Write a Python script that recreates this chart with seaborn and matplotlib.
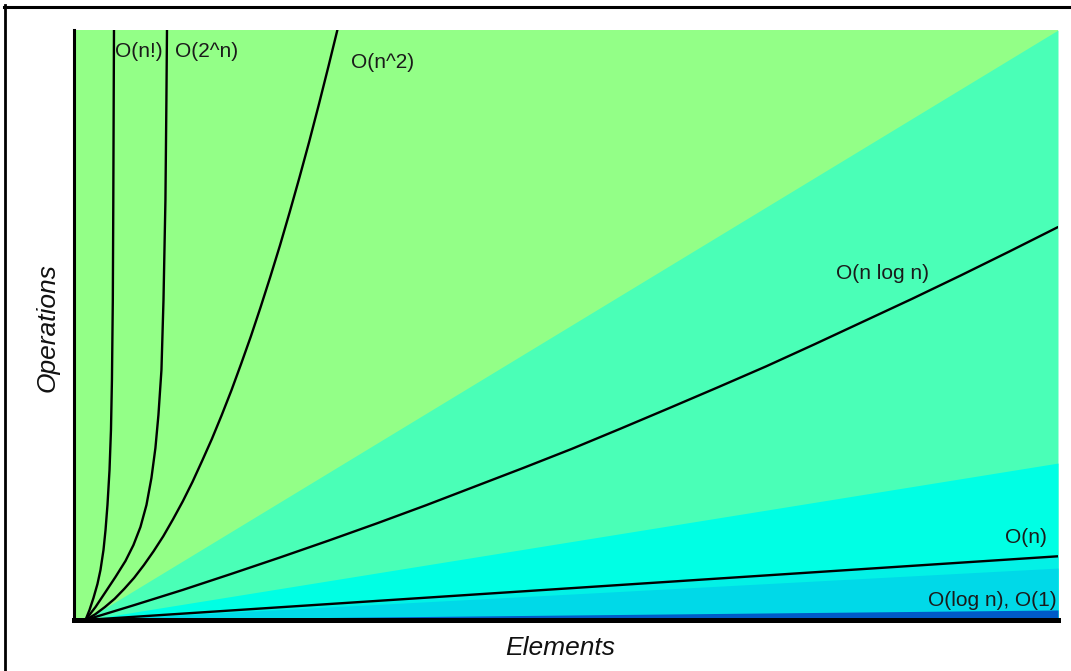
import matplotlib
matplotlib.use("Agg")
import matplotlib.pyplot as plt
from matplotlib.lines import Line2D
import seaborn as sns
import pandas as pd

# ---- data (x: Elements 0..100, y: Operations 0..100) ----
region_names = ["Fair", "Good", "Better", "Great", "Excellent"]
region_end_y = [100.0, 26.6, 10.8, 8.8, 1.7]   # height of each wedge at x=100
region_colors = ["#4AFFB7", "#00FFE4", "#03F1E6", "#00D9E8", "#005AC8"]
background_color = "#93FF87"

fact_x = [0, 0.41, 0.82, 1.23, 1.54, 1.85, 2.06, 2.26, 2.47, 2.62, 2.72, 2.81,
          2.86, 2.90, 2.93]
fact_y = [0, 1.69, 3.73, 6.1, 8.47, 11.86, 15.25, 19.5, 25.4, 32.2, 40.7, 54.2,
          71.2, 88.1, 100]

exp_x = [0, 1.03, 2.06, 3.08, 4.11, 4.93, 5.65, 6.27, 6.78, 7.19, 7.50, 7.81,
         8.02, 8.22, 8.32, 8.38]
exp_y = [0, 2.2, 4.75, 7.29, 10.0, 12.7, 15.76, 19.5, 24.07, 29.15, 34.75, 42.37,
         54.2, 71.2, 88.1, 100]

sq_x = [0, 1, 2, 3, 4, 5, 6, 7, 8, 9, 10, 11, 12, 13, 14, 15, 16, 17, 18, 19,
        20, 21, 22, 23, 24, 25, 25.9]
sq_y = [0, 0.97, 2.2, 3.6, 5.3, 7.15, 9.3, 11.65, 14.2, 17.07, 20.1, 23.4, 27.0,
        30.7, 34.7, 38.9, 43.4, 48.05, 53.0, 58.15, 63.5, 69.15, 75.0, 81.05,
        87.4, 93.95, 100]

nlogn_x = [0, 5, 10, 15, 20, 25, 30, 35, 40, 45, 50, 55, 60, 65, 70, 75, 80,
           85, 90, 95, 100]
nlogn_y = [0, 2.52, 5.1, 7.82, 10.6, 13.46, 16.4, 19.44, 22.6, 25.76, 29.0,
           32.42, 35.9, 39.42, 43.0, 46.76, 50.6, 54.44, 58.4, 62.46, 66.6]

lin_x = [0, 100]
lin_y = [0, 10.8]

labels = ["O(n!)", "O(2^n)", "O(n^2)", "O(n log n)", "O(n)", "O(log n), O(1)"]

# ---- build table ----
frames = []
for name, xs, ys in [("O(n!)", fact_x, fact_y), ("O(2^n)", exp_x, exp_y),
                     ("O(n^2)", sq_x, sq_y), ("O(n log n)", nlogn_x, nlogn_y),
                     ("O(n)", lin_x, lin_y)]:
    frames.append(pd.DataFrame({"x": xs, "y": ys, "curve": name}))
df = pd.concat(frames, ignore_index=True)

W, H = 1071, 671
fig = plt.figure(figsize=(W / 100, H / 100), dpi=100)
fig.patch.set_facecolor("white")

left_px, right_px, top_px, bottom_px = 73.5, 1058, 30, 620
ax = fig.add_axes([left_px / W, 1 - bottom_px / H,
                   (right_px - left_px) / W, (bottom_px - top_px) / H])
ax.set_facecolor(background_color)

# wedges from the origin
for name, end, col in zip(region_names, region_end_y, region_colors):
    ax.fill_between([0, 100], [0, 0], [0, end], color=col, linewidth=0, zorder=1)

sns.lineplot(data=df, x="x", y="y", hue="curve", units="curve",
             estimator=None, sort=False, legend=False,
             palette={c: "black" for c in df["curve"].unique()},
             linewidth=1.7, ax=ax, zorder=3,
             solid_joinstyle="round", solid_capstyle="round")

ax.set_xlim(-1.233, 100)
ax.set_ylim(0, 100)
ax.set_xticks([])
ax.set_yticks([])
ax.set_xlabel("")
ax.set_ylabel("")
for s in ["top", "right"]:
    ax.spines[s].set_visible(False)
ax.spines["left"].set_linewidth(2.2)
ax.spines["bottom"].set_linewidth(3.6)
ax.spines["left"].set_zorder(5)
ax.spines["bottom"].set_zorder(5)

# curve labels (left edge, baseline) in data units
label_pos = [(3.01, 95.4), (9.18, 95.4), (27.3, 93.6), (77.2, 57.8), (94.6, 13.05), (86.6, 2.37)]
for txt, (lx, ly) in zip(labels, label_pos):
    ax.text(lx, ly, txt, ha="left", va="baseline", fontsize=15,
            family=["Liberation Sans", "DejaVu Sans"], color="#1a1a1a", zorder=6)

fig.text(560 / W, 1 - 655 / H, "Elements", ha="center", va="baseline",
         fontsize=19, style="italic", family=["Liberation Sans", "DejaVu Sans"], color="#111111")
fig.text(48 / W, 1 - 328 / H, "Operations", ha="center", va="center", rotation=90,
         fontsize=19, style="italic", family=["Liberation Sans", "DejaVu Sans"], color="#111111")

# outer frame (top and left)
fig.add_artist(Line2D([4 / W, 1], [1 - 6.5 / H, 1 - 6.5 / H], transform=fig.transFigure,
                      color="black", linewidth=2.2))
fig.add_artist(Line2D([5.3 / W, 5.3 / W], [0, 1 - 5 / H], transform=fig.transFigure,
                      color="black", linewidth=2.0))

fig.savefig("out.png", dpi=100)
